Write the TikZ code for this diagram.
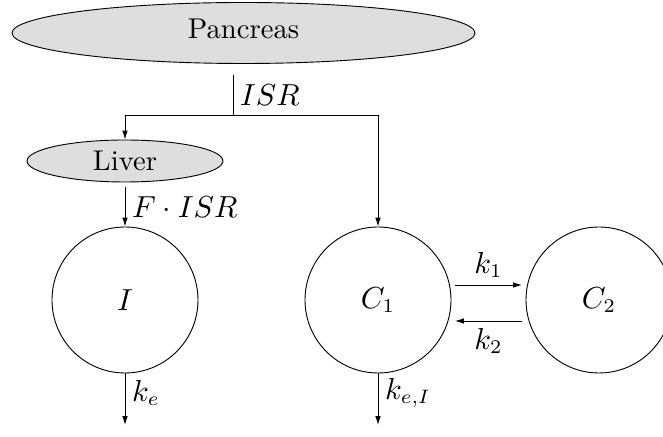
\documentclass[tikz,border=0pt]{standalone}
\usetikzlibrary{shapes.geometric,arrows.meta}
\begin{document}
\begin{tikzpicture}[x=0.36pt,y=-0.36pt, line width=0.33pt,
  font=\fontsize{10.3}{12}\selectfont,
  >={Latex[length=3.2pt,width=2pt]},
  organ/.style={draw, ellipse, fill=black!13, inner sep=0pt},
  comp/.style={draw, circle, inner sep=0pt, minimum size={146*0.36pt}, font=\fontsize{10.6}{12}\selectfont},
  lbl/.style={inner sep=2.4pt, font=\fontsize{10.6}{12}\selectfont}]
\useasboundingbox (0,0) rectangle (663,437);
\node[organ, minimum width={463*0.36pt}, minimum height={61*0.36pt}] (pan) at (243.5,33) {\raisebox{3pt}{Pancreas}};
\node[organ, minimum width={196*0.36pt}, minimum height={42*0.36pt}] (liv) at (125,161) {Liver};
\node[comp] (I) at (125,300) {$I$};
\node[comp] (C1) at (378,300) {$C_1$};
\node[comp] (C2) at (599,300) {$C_2$};
\coordinate (s) at (233,75);
\coordinate (j) at (233,115);
\coordinate (lo) at (125,187);
\coordinate (Iout) at (125,425);
\coordinate (Cout) at (378,425);
\coordinate (a1) at (455,285);
\coordinate (b1) at (522,285);
\coordinate (a2) at (522,321);
\coordinate (b2) at (455,321);
\draw (s) -- (j) node[midway,right,lbl] {$ISR$};
\draw[->] (j) -| (liv.north);
\draw[->] (j) -| (C1.north);
\draw[->] (lo) -- (I.north) node[midway,right,lbl] {$F\cdot ISR$};
\draw[->] (I.south) -- (Iout) node[pos=0.38,right,lbl] {$k_e$};
\draw[->] (C1.south) -- (Cout) node[pos=0.38,right,lbl] {$k_{e,I}$};
\draw[->] (a1) -- (b1) node[midway,above,lbl] {$k_1$};
\draw[->] (a2) -- (b2) node[midway,below,lbl] {$k_2$};
\end{tikzpicture}
\end{document}
